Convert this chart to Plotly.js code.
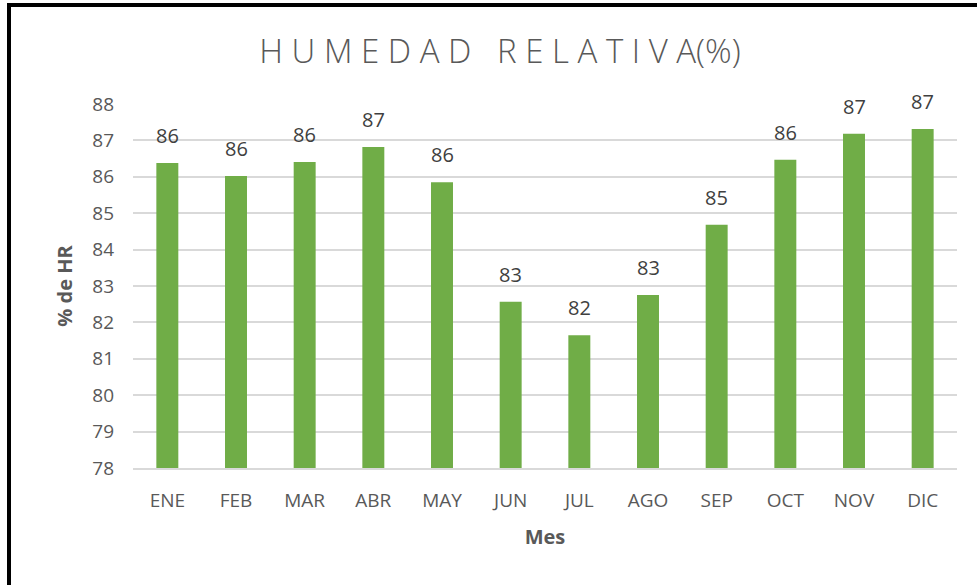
<!DOCTYPE html>
<html>
<head>
<meta charset="utf-8">
<script src="https://cdn.plot.ly/plotly-3.0.1.min.js"></script>
<style>
  html, body { margin: 0; padding: 0; background: #fff; }
  #wrap { position: relative; width: 977px; height: 585px; overflow: hidden; }
  #chart { position: absolute; left: 0; top: 0; width: 977px; height: 585px; }
  #frame { position: absolute; left: 7px; top: 3px; width: 980px; height: 590px;
           border-left: 4px solid #000; border-top: 4px solid #000; pointer-events: none; }
</style>
</head>
<body>
<div id="wrap">
  <div id="chart"></div>
  <div id="frame"></div>
</div>
<script>
const months = ['ENE','FEB','MAR','ABR','MAY','JUN','JUL','AGO','SEP','OCT','NOV','DIC'];
const humidity = [86.38, 86.02, 86.41, 86.82, 85.85, 82.57, 81.65, 82.75, 84.68, 86.47, 87.18, 87.31];
const yTicks = [78, 79, 80, 81, 82, 83, 84, 85, 86, 87, 88];

const grey = '#595959';
const fontFam = '"Open Sans", "Liberation Sans", sans-serif';
const yMin = 78;

const trace = {
  type: 'bar',
  x: months,
  y: humidity.map(v => v - yMin),
  base: yMin,
  marker: { color: '#70ad47' },
  hoverinfo: 'skip'
};

const annotations = months.map((m, i) => ({
  x: m, y: humidity[i], xref: 'x', yref: 'y',
  text: Math.round(humidity[i]).toString(),
  showarrow: false, yanchor: 'bottom', yshift: 12,
  font: { family: fontFam, size: 20, color: '#404040' }
}));

const layout = {
  width: 977, height: 585,
  margin: { l: 133, r: 20, t: 104, b: 117 },
  paper_bgcolor: '#ffffff', plot_bgcolor: '#ffffff',
  showlegend: false,
  bargap: 0.68,
  title: {
    text: 'H U M E D A D   R E L A T I V A(%)',
    x: 500/977, xref: 'container', xanchor: 'center',
    y: 1 - 51/585, yref: 'container', yanchor: 'middle',
    font: { family: fontFam, size: 33, color: grey, weight: 300 }
  },
  xaxis: {
    type: 'category',
    tickfont: { family: fontFam, size: 19, color: grey },
    ticks: '', ticklabelstandoff: 14,
    showline: true, linecolor: '#d9d9d9', linewidth: 2,
    showgrid: false, zeroline: false,
    title: { text: 'Mes', standoff: 18, font: { family: fontFam, size: 20, color: grey, weight: 'bold' } },
    automargin: false, fixedrange: true
  },
  yaxis: {
    range: [78, 88],
    tickvals: yTicks,
    ticktext: yTicks.map(String),
    tickfont: { family: fontFam, size: 19, color: grey },
    ticks: '', ticklabelstandoff: 18,
    showgrid: true, gridcolor: '#d9d9d9', gridwidth: 2,
    showline: false, zeroline: false,
    title: { text: '% de HR', standoff: 14, font: { family: fontFam, size: 20, color: grey, weight: 'bold' } },
    automargin: false, fixedrange: true
  },
  annotations: annotations
};

Plotly.newPlot('chart', [trace], layout, { staticPlot: true, displayModeBar: false });
</script>
</body>
</html>
